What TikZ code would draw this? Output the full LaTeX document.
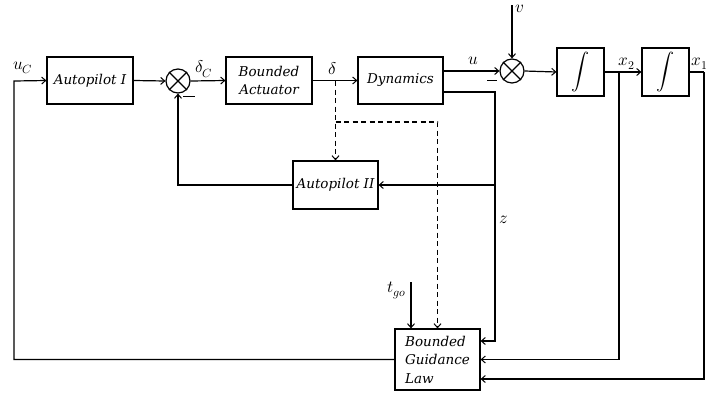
\documentclass[tikz,border=0pt]{standalone}
\usepackage{fontspec}
\usepackage{unicode-math}
\setmathfont{Latin Modern Math}
\newfontfamily\boxfont{DejaVu Serif}
\usetikzlibrary{arrows.meta,calc}
\begin{document}
\begin{tikzpicture}[x=1pt,y=-1pt,
  line width=1.2pt,
  >={Straight Barb[length=4pt,width=7pt,line width=1pt]},
  blk/.style={draw,rectangle,inner sep=2pt,font=\boxfont\fontsize{13.5}{18.5}\selectfont\itshape,align=center},
  sumc/.style={draw,circle,minimum size=24pt,inner sep=0pt},
  lbl/.style={font=\fontsize{17}{19}\selectfont,inner sep=1pt},
  dsh/.style={dashed,dash pattern=on 5pt off 3.5pt}]
\useasboundingbox (0,0) rectangle (712,394);
% blocks
\node[blk,minimum width=86pt,minimum height=47pt] (ap1) at (90,80.5) {Autopilot I};
\node[sumc] (s1) at (178,81) {};
\draw (s1.north west) -- (s1.south east) (s1.north east) -- (s1.south west);
\node[blk,minimum width=86pt,minimum height=47pt] (act) at (269,80.5) {Bounded\\Actuator};
\node[blk,minimum width=85pt,minimum height=47pt] (dyn) at (400.5,80.5) {Dynamics};
\node[sumc] (s2) at (512,71) {};
\draw (s2.north west) -- (s2.south east) (s2.north east) -- (s2.south west);
\node[blk,minimum width=47pt,minimum height=48pt,font=\fontsize{18}{22}\selectfont] (i1) at (580.5,72) {$\displaystyle\int$};
\node[blk,minimum width=47pt,minimum height=48pt,font=\fontsize{18}{22}\selectfont] (i2) at (665.5,72) {$\displaystyle\int$};
\node[blk,minimum width=85pt,minimum height=48pt] (ap2) at (335.5,185) {Autopilot II};
\node[blk,minimum width=85pt,minimum height=61pt,align=left] (gl) at (437.5,359.5) {Bounded\\Guidance\\Law};
% coordinates
\coordinate (cL) at (14,81);
\coordinate (b1) at (335.5,81);
\coordinate (d1) at (335.5,122);
\coordinate (zt) at (495,92);
\coordinate (zk) at (495,341);
\coordinate (x2c) at (619,72);
\coordinate (x1c) at (704,72);
\coordinate (x1k) at (704,379);
\coordinate (vt) at (512,5);
\coordinate (tg) at (411,282);
% connectors
\draw[->] (gl.west) -| (cL) -- (ap1.west);
\draw[->] (ap1.east) -- (s1.west);
\draw[->] (s1.east) -- (act.west);
\draw[->] (act.east) -- (dyn.west);
\draw[->,dsh] (b1) -- (ap2.north);
\draw[->,dsh] (d1) -| (gl.north);
\draw[->] (dyn.east |- s2.west) -- (s2.west);
\draw[->] (dyn.east |- zt) -- (zt) -- (zk) -- (gl.east |- zk);
\draw[->] (zt |- ap2.east) -- (ap2.east);
\draw[->] (ap2.west) -| (s1.south);
\draw[->] (vt) -- (s2.north);
\draw[->] (s2.east) -- (i1.west);
\draw[->] (i1.east) -- (i2.west);
\draw[->] (x2c) |- (gl.east);
\draw (i2.east) -- (x1c);
\draw[->] (x1c) -- (x1k) -- (gl.east |- x1k);
\draw[->] (tg) -- (tg |- gl.north);
% minus signs
\draw[line width=0.8pt] (183,96) -- (195,96);
\draw[line width=0.8pt] (487,80) -- (497,80);
% labels
\node[lbl] (luc) at (23,68) {$u_C$};
\node[lbl] (ldc) at (204,69) {$\delta_C$};
\node[lbl] (ld) at (333,69) {$\delta$};
\node[lbl] (lu) at (473,61) {$u$};
\node[lbl] (lv) at (520,9) {$v$};
\node[lbl] (lx2) at (627,64) {$x_2$};
\node[lbl,anchor=west] (lx1) at (690,64) {$x_1$};
\node[lbl] (lz) at (504,220) {$z$};
\node[lbl] (ltg) at (397,290) {$t_{go}$};
\end{tikzpicture}
\end{document}
